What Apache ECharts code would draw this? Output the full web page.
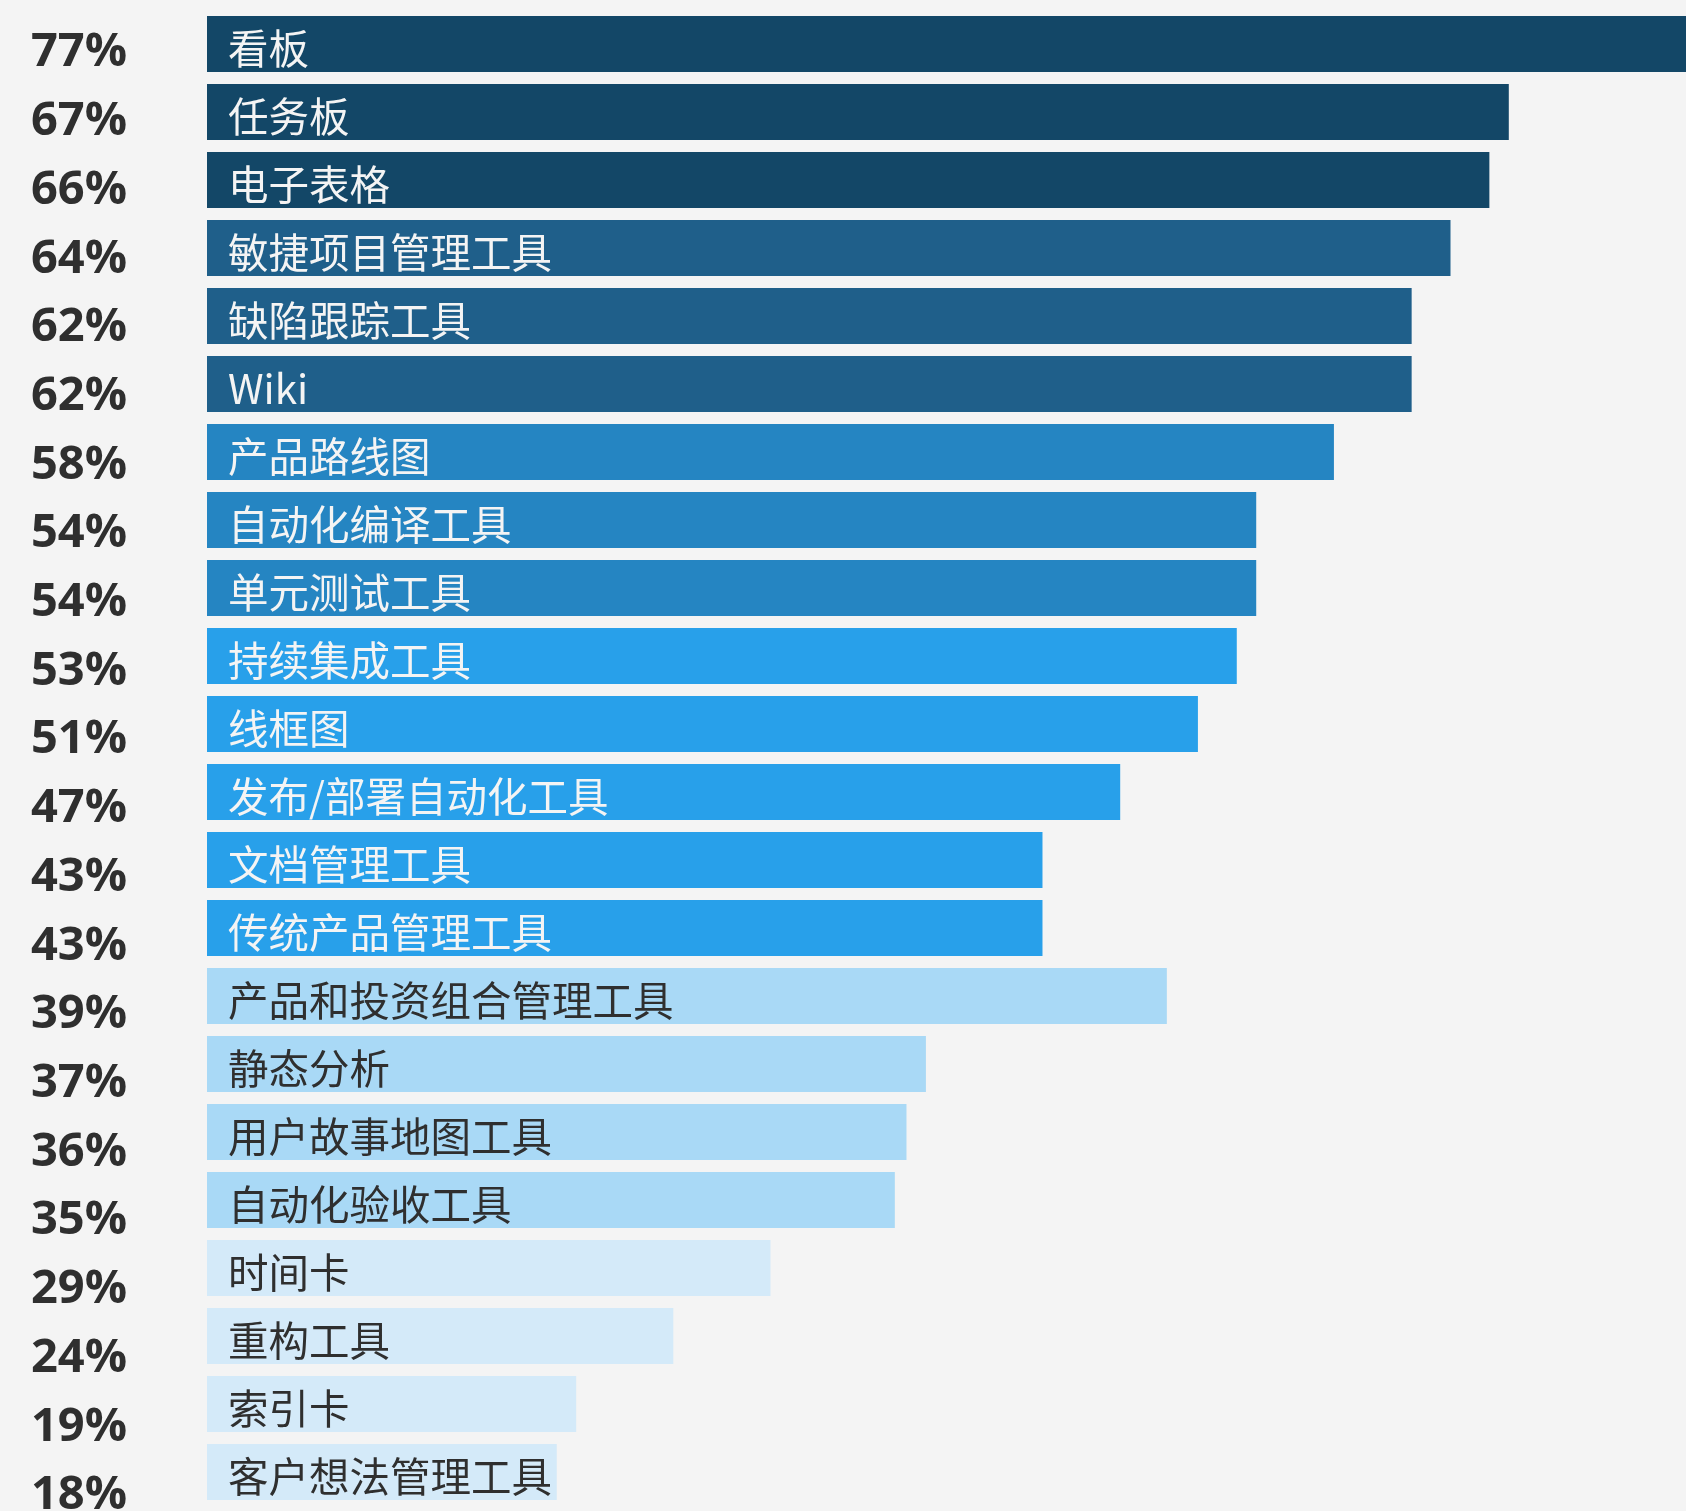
<!DOCTYPE html>
<html>
<head>
<meta charset="utf-8">
<script src="https://cdn.jsdelivr.net/npm/echarts@6/dist/echarts.min.js"></script>
<style>
  html, body { margin: 0; padding: 0; background: #f4f4f4; }
  #chart { width: 1686px; height: 1511px; }
</style>
</head>
<body>
<div id="chart"></div>
<script>
const categories = ['看板','任务板','电子表格','敏捷项目管理工具','缺陷跟踪工具','Wiki','产品路线图','自动化编译工具','单元测试工具','持续集成工具','线框图','发布/部署自动化工具','文档管理工具','传统产品管理工具','产品和投资组合管理工具','静态分析','用户故事地图工具','自动化验收工具','时间卡','重构工具','索引卡','客户想法管理工具'];
const percentLabels = [77,67,66,64,62,62,58,54,54,53,51,47,43,43,39,37,36,35,29,24,19,18];
const barValues = [77,67,66,64,62,62,58,54,54,53,51,47,43,43,49.4,37,36,35.4,29,24,19,18];

const tierColors = ['#134767','#1f5f8a','#2585c2','#28a0ea','#a9d9f6','#d4eaf9'];
const tierOf = [0,0,0,1,1,1,2,2,2,3,3,3,3,3,4,4,4,4,5,5,5,5];

// percentage labels in the original drift slightly downward relative to the bars
const pctRich = {};
categories.forEach((c, i) => {
  pctRich['p' + i] = {
    fontFamily: 'Open Sans', fontWeight: 'bold', fontSize: 47, color: '#2f2f2f',
    padding: [18 + 1.42 * i, 0, 0, 0]
  };
});

const chart = echarts.init(document.getElementById('chart'), null, { renderer: 'canvas' });
chart.setOption({
  backgroundColor: '#f4f4f4',
  animation: false,
  grid: { left: 207, right: 0, top: 10, height: 1496, containLabel: false, outerBoundsMode: 'none' },
  xAxis: {
    type: 'value', min: 0, max: 76.12,
    show: false
  },
  yAxis: {
    type: 'category', inverse: true, data: categories,
    axisLine: { show: false }, axisTick: { show: false }, splitLine: { show: false },
    axisLabel: {
      align: 'left', margin: 176,
      formatter: (v, i) => '{p' + i + '|' + percentLabels[i] + '%}',
      rich: pctRich
    }
  },
  series: [{
    type: 'bar',
    barWidth: 56,
    data: barValues.map((v, i) => ({
      value: v,
      itemStyle: { color: tierColors[tierOf[i]] },
      label: { color: tierOf[i] >= 4 ? '#2f2f2f' : '#f4f4f4' }
    })),
    label: {
      show: true, position: 'insideLeft', distance: 21,
      offset: [0, 5],
      fontFamily: 'Noto Sans CJK SC', fontSize: 40.5,
      formatter: p => categories[p.dataIndex]
    }
  }]
});
</script>
</body>
</html>
